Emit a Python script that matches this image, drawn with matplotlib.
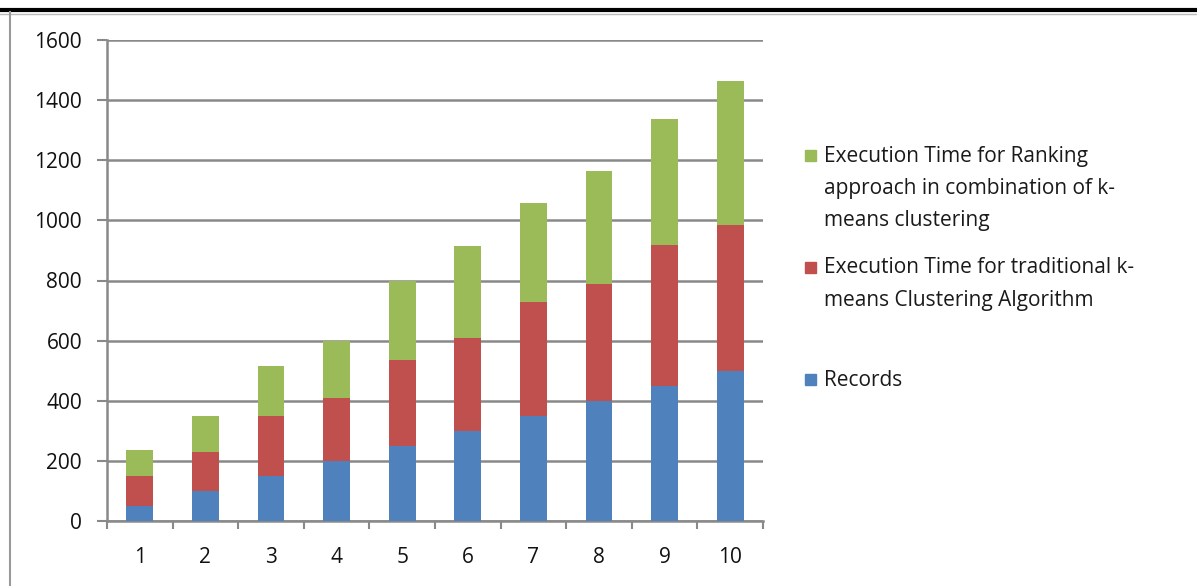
# Stacked execution time chart (records vs. k-means vs. ranking + k-means)
import matplotlib.pyplot as plt
from matplotlib.lines import Line2D
from matplotlib.patches import Rectangle
import numpy as np

plt.rcParams['font.family'] = ['Open Sans', 'DejaVu Sans']

runs = [1, 2, 3, 4, 5, 6, 7, 8, 9, 10]
records = [50, 100, 150, 200, 250, 300, 350, 400, 450, 500]
kmeans_time = [100, 130, 200, 208, 287, 308, 380, 390, 467, 484]
ranking_time = [86, 120, 165, 190, 263, 307, 327, 373, 419, 481]
y_ticks = [0, 200, 400, 600, 800, 1000, 1200, 1400, 1600]

series_labels = [
    "Execution Time for Ranking\napproach in combination of k-\nmeans clustering",
    "Execution Time for traditional k-\nmeans Clustering Algorithm",
    "Records",
]
blue, red, green = "#4F81BD", "#C0504D", "#9BBB59"
grid_gray = "#898989"

fig = plt.figure(figsize=(11.97, 5.86), dpi=100)
ax = fig.add_axes([107 / 1197, 1 - 521 / 586, 656 / 1197, 481 / 586])

x = np.array(runs)
bottom2 = np.array(records)
bottom3 = bottom2 + np.array(kmeans_time)
ax.bar(x, records, width=0.41, color=blue, zorder=3)
ax.bar(x, kmeans_time, width=0.41, bottom=bottom2, color=red, zorder=3)
ax.bar(x, ranking_time, width=0.41, bottom=bottom3, color=green, zorder=3)

ax.set_xlim(0.5, 10.5)
ax.set_ylim(0, 1600)
ax.set_yticks(y_ticks)
ax.set_xticks(x)
ax.set_xticks(np.arange(0.5, 11, 1), minor=True)
ax.tick_params(axis="x", which="major", length=0, pad=19, labelsize=15, labelcolor="#111111")
ax.tick_params(axis="x", which="minor", length=6, width=1.5, color=grid_gray, direction="out")
ax.tick_params(axis="y", length=7, width=1.5, color=grid_gray, direction="out", pad=11,
               labelsize=15, labelcolor="#111111")

ax.yaxis.grid(True, color=grid_gray, linewidth=1.8, zorder=0)
for side in ["top", "right"]:
    ax.spines[side].set_visible(False)
for side in ["left", "bottom"]:
    ax.spines[side].set_color(grid_gray)
    ax.spines[side].set_linewidth(1.8)

# legend drawn by hand so the uneven Excel spacing can be kept
legend_colors = [green, red, blue]
legend_rows = [156, 268, 380]
legend_centers = [188.5, 284, 380]
for label, col, yrow, yc in zip(series_labels, legend_colors, legend_rows, legend_centers):
    fig.patches.append(Rectangle((805 / 1197, 1 - (yrow + 5) / 586), 11 / 1197, 11 / 586,
                                 transform=fig.transFigure, color=col))
    fig.text(824 / 1197, 1 - yc / 586, label, fontsize=15, va="center",
             linespacing=1.71, color="#1a1a1a")

# frame lines of the surrounding page
fig.add_artist(Line2D([0, 1], [1 - 10 / 586, 1 - 10 / 586], color="black", linewidth=3))
fig.add_artist(Line2D([0, 1], [1 - 14 / 586, 1 - 14 / 586], color="#bbbbbb", linewidth=1))
fig.add_artist(Line2D([10 / 1197, 10 / 1197], [0, 1 - 12 / 586], color="#999999", linewidth=1.5))

fig.savefig("out.png", dpi=100)
plt.close(fig)
